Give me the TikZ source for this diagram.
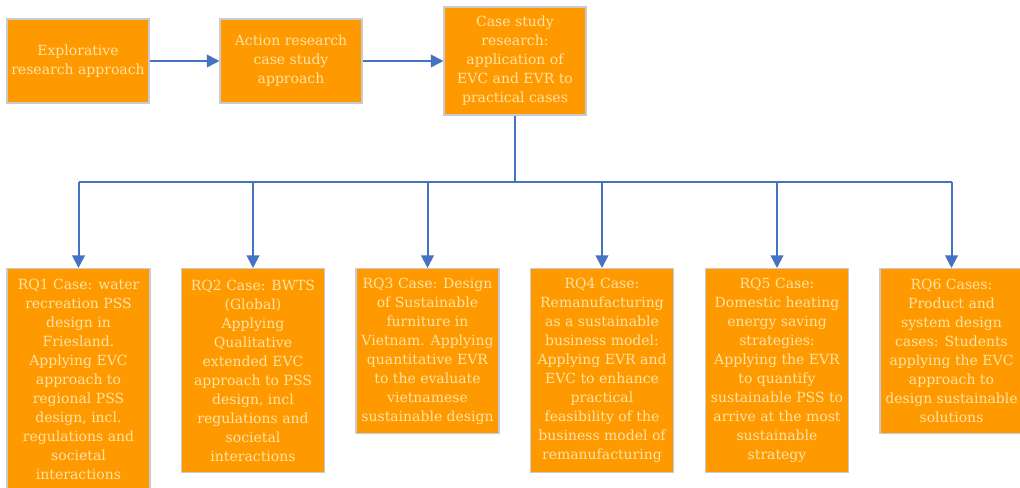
\documentclass[tikz,border=0pt]{standalone}
\usepackage{fontspec}
\setmainfont{DejaVu Serif}
\usetikzlibrary{arrows.meta}
\definecolor{boxfill}{HTML}{FF9900}
\definecolor{boxline}{HTML}{C9CBD3}
\definecolor{boxtext}{HTML}{FFE3A8}
\definecolor{linkblue}{HTML}{4472C4}
\tikzset{
  stagebox/.style={draw=boxline, line width=0.8pt, fill=boxfill, text=boxtext,
    align=center, inner sep=2pt, font=\fontsize{10.5}{14.25}\selectfont},
  topbox/.style={stagebox, minimum width=106.5pt},
  casebox/.style={stagebox, minimum width=107.25pt, anchor=north},
  conn/.style={draw=linkblue, line width=1.5pt},
  arr/.style={conn, -{Triangle[length=9.5pt,width=9.5pt]}}
}
\begin{document}
\begin{tikzpicture}[x=0.75pt, y=-0.75pt]
\useasboundingbox (0,0) rectangle (1020,488);

% top row of approaches
\node[topbox, minimum height=63pt] (explore) at (78,61)
  {Explorative\\research approach};
\node[topbox, minimum height=63pt] (action) at (291,61)
  {Action research\\case study\\approach};
\node[topbox, minimum height=81pt] (cases) at (515,61)
  {Case study\\research:\\application of\\EVC and EVR to\\practical cases};

\draw[arr] (explore.east) -- (action.west);
\draw[arr] (action.east) -- (cases.west);

% research question cases
\node[casebox, minimum height=166.5pt] (rq1) at (78.5,268)
  {RQ1 Case: water\\recreation PSS\\design in\\Friesland.\\Applying EVC\\approach to\\regional PSS\\design, incl.\\regulations and\\societal\\interactions};
\node[casebox, minimum height=153pt] (rq2) at (253,268)
  {RQ2 Case: BWTS\\(Global)\\Applying\\Qualitative\\extended EVC\\approach to PSS\\design, incl\\regulations and\\societal\\interactions};
\node[casebox, minimum height=123.75pt] (rq3) at (427.5,268)
  {RQ3 Case: Design\\of Sustainable\\furniture in\\Vietnam. Applying\\quantitative EVR\\to the evaluate\\vietnamese\\sustainable design};
\node[casebox, minimum height=153pt] (rq4) at (602,268)
  {RQ4 Case:\\Remanufacturing\\as a sustainable\\business model:\\Applying EVR and\\EVC to enhance\\practical\\feasibility of the\\business model of\\remanufacturing};
\node[casebox, minimum height=153pt] (rq5) at (777,268)
  {RQ5 Case:\\Domestic heating\\energy saving\\strategies:\\Applying the EVR\\to quantify\\sustainable PSS to\\arrive at the most\\sustainable\\strategy};
\node[casebox, minimum height=123.75pt] (rq6) at (951.5,268)
  {RQ6 Cases:\\Product and\\system design\\cases: Students\\applying the EVC\\approach to\\design sustainable\\solutions};

% branching connectors
\coordinate (bar) at (515,182);
\draw[conn] (cases.south) -- (bar);
\draw[conn] (rq1.north |- bar) -- (rq6.north |- bar);
\foreach \n in {rq1,rq2,rq3,rq4,rq5,rq6}
  \draw[arr] (\n.north |- bar) -- (\n.north);
\end{tikzpicture}
\end{document}
